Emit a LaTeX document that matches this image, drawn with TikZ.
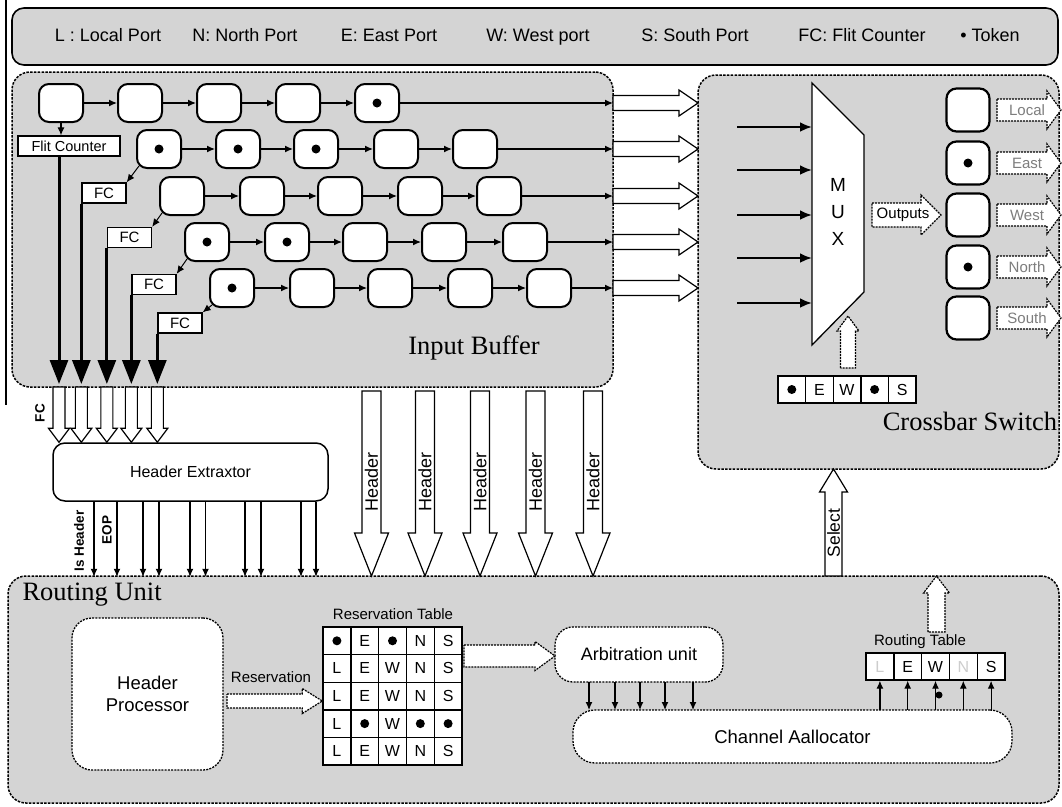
\documentclass[tikz,border=0pt]{standalone}
\usepackage{fontspec}
\setmainfont{Liberation Sans}
\newfontfamily\serifF{Liberation Serif}
\usetikzlibrary{calc,arrows.meta}
\definecolor{panelgray}{RGB}{212,212,212}
\definecolor{lblgray}{RGB}{125,125,125}
\definecolor{fadegray}{RGB}{205,205,205}
\newcommand\fsz[2]{\fontsize{#1}{#2}\selectfont}
% block arrows: [style]{start}{end}{shaft half width}{head half width}{head length}
\newcommand\barR[6][]{\draw[#1] let \p1=(#2),\p2=(#3) in (\x1,\y1+#4) -- (\x2-#6,\y1+#4) -- (\x2-#6,\y1+#5) -- (\x2,\y1) -- (\x2-#6,\y1-#5) -- (\x2-#6,\y1-#4) -- (\x1,\y1-#4) -- cycle;}
\newcommand\barD[6][]{\draw[#1] let \p1=(#2),\p2=(#3) in (\x1-#4,\y1) -- (\x1-#4,\y2+#6) -- (\x1-#5,\y2+#6) -- (\x1,\y2) -- (\x1+#5,\y2+#6) -- (\x1+#4,\y2+#6) -- (\x1+#4,\y1) -- cycle;}
\newcommand\barU[6][]{\draw[#1] let \p1=(#2),\p2=(#3) in (\x1-#4,\y1) -- (\x1-#4,\y2-#6) -- (\x1-#5,\y2-#6) -- (\x1,\y2) -- (\x1+#5,\y2-#6) -- (\x1+#4,\y2-#6) -- (\x1+#4,\y1) -- cycle;}
\tikzset{
  panel/.style={draw, fill=panelgray, line width=1.5pt, dash pattern=on 2.5pt off 1.3pt, rounded corners=18pt, inner sep=0pt, outer sep=0pt},
  solidpanel/.style={draw, fill=panelgray, line width=1.6pt, rounded corners=12pt, inner sep=0pt, outer sep=0pt},
  dbox/.style={draw, fill=white, line width=1.3pt, dash pattern=on 2pt off 1.2pt, inner sep=0pt, outer sep=0pt},
  cell/.style={draw, fill=white, line width=2pt, rounded corners=10pt, minimum width=44pt, minimum height=38pt, inner sep=0pt},
  tokdot/.style={circle, fill=black, inner sep=0pt, minimum size=9pt},
  flow/.style={line width=1.2pt, -{Latex[length=8pt,width=7pt]}},
  thickarr/.style={line width=3pt, -{Triangle[length=24pt,width=18pt]}},
  inarr/.style={line width=2.4pt, -{Latex[length=12pt,width=10pt]}},
  hollow/.style={draw, fill=white, line width=1.2pt},
  dhollow/.style={draw, fill=white, line width=1.2pt, dash pattern=on 2pt off 1pt},
  fcbox/.style={draw, fill=white, line width=1.3pt, inner sep=0pt, font=\fsz{15}{18}},
  tcell/.style={draw, fill=white, line width=1.4pt, minimum width=27.8pt, minimum height=27.6pt, inner sep=0pt, font=\fsz{16}{19}},
  rotlbl/.style={rotate=90, font=\bfseries\fsz{13.5}{16}},
  legtext/.style={font=\fsz{18}{21}, text height=13pt, text depth=4pt},
  title/.style={font=\serifF\fsz{26.5}{30}}
}
\begin{document}
\begin{tikzpicture}[x=1pt,y=-1pt]
\useasboundingbox (0,0) rectangle (1062,806);
\fill[white] (0,0) rectangle (1062,806);
\draw[line width=1.5pt] (6,0) -- (6,405);

% ---------- legend ----------
\node[solidpanel, minimum width=1046pt, minimum height=57pt] (legend) at (535,36.5) {};
\node[legtext] (lg1) at (108,37) {L : Local Port};
\node[legtext] (lg2) at (245,37) {N: North Port};
\node[legtext] (lg3) at (389,37) {E: East Port};
\node[legtext] (lg4) at (538,37) {W: West port};
\node[legtext] (lg5) at (695,37) {S: South Port};
\node[legtext] (lg6) at (862,37) {FC: Flit Counter};
\node[legtext] (lg7) at (990,37) {• Token};

% ---------- panels ----------
\node[panel, minimum width=601pt, minimum height=315pt] (ib) at (312.5,229.5) {};
\node[panel, minimum width=361pt, minimum height=394pt] (cb) at (878.5,272) {};
\node[panel, minimum width=1051pt, minimum height=227pt] (ru) at (533.5,689.5) {};

% ---------- input buffer ----------
\foreach \x [count=\i] in {61,140,219,298,377}
  \node[cell] (r1c\i) at (\x,103) {};
\foreach \x [count=\i] in {159,238,316,396,475}
  \node[cell] (r2c\i) at (\x,149) {};
\foreach \x [count=\i] in {182,262,340,420,499}
  \node[cell] (r3c\i) at (\x,196) {};
\foreach \x [count=\i] in {207,287,365,444,525}
  \node[cell] (r4c\i) at (\x,242) {};
\foreach \x [count=\i] in {232,312,390,470,549}
  \node[cell] (r5c\i) at (\x,288) {};

\foreach \rowi in {1,...,5}{
  \foreach \coli [evaluate=\coli as \nxt using int(\coli+1)] in {1,...,4}
    \draw[flow] (r\rowi c\coli) -- (r\rowi c\nxt);
  \draw[flow] (r\rowi c5) -- (r\rowi c5 -| ib.east);
  \barR[hollow]{r\rowi c5 -| ib.east}{r\rowi c5 -| cb.west}{7.5pt}{13pt}{19pt}
}

\node[fcbox, minimum width=102pt, minimum height=20pt, font=\fsz{14.5}{17}] (flit) at (69,146) {Flit Counter};
\draw[flow] (r1c1) -- (r1c1 |- flit.north);
\node[fcbox, minimum width=44pt, minimum height=20pt] (fc1) at (104,193) {FC};
\node[fcbox, minimum width=44pt, minimum height=20pt] (fc2) at (129.5,237.5) {FC};
\node[fcbox, minimum width=44pt, minimum height=20pt] (fc3) at (154,284.5) {FC};
\node[fcbox, minimum width=44pt, minimum height=20pt] (fc4) at (180,323) {FC};
\draw[flow, line width=1pt] ([shift={(3,-3)}]r2c1.south west) -- (fc1.north east);
\draw[flow, line width=1pt] ([shift={(3,-3)}]r3c1.south west) -- (fc2.north east);
\draw[flow, line width=1pt] ([shift={(3,-3)}]r4c1.south west) -- (fc3.north east);
\draw[flow, line width=1pt] ([shift={(3,-3)}]r5c1.south west) -- (fc4.north east);

\node[title] (iblbl) at (474,348) {Input Buffer};

% ---------- header extractor ----------
\node[draw, fill=white, line width=1.5pt, rounded corners=12pt, minimum width=275pt, minimum height=58pt, inner sep=0pt, font=\fsz{16}{19}] (he) at (190.5,472) {Header Extraxtor};

\coordinate (ibb) at (0,384);
\coordinate (t0) at ([xshift=-10]flit.south);
\coordinate (t1) at (fc1.south west);
\coordinate (t2) at (fc2.south west);
\coordinate (t3) at (fc3.south west);
\coordinate (t4) at (fc4.south west);
\foreach \k in {0,...,4}{
  \draw[thickarr] (t\k) -- (t\k |- ibb);
  \barD[hollow]{t\k |- ib.south}{t\k |- he.north}{6pt}{10.5pt}{14pt}
}
\node[rotlbl] (fclbl) at (40,413) {FC};

\foreach \dx in {-96.5,-73.5,-47.5,-31.5,-0.5,15,54.5,70.5,110.5,125.5}
  \draw[flow, line width=1.1pt] ([xshift=\dx]he.south) -- +(0,75);
\node[rotlbl] (ishdr) at (79,541) {Is Header};
\node[rotlbl] (eop) at (107,530) {EOP};

% ---------- header arrows ----------
\foreach \x [count=\k] in {371.5,425,480,535.5,593}{
  \coordinate (hs\k) at (\x,391);
  \barD[hollow]{hs\k}{hs\k |- ru.north}{9.5pt}{17pt}{43pt}
  \node[rotate=90, font=\fsz{18}{21}] (hl\k) at (\x,482) {Header};
}

% ---------- crossbar ----------
\draw[fill=white, line width=1.3pt] (812,83) coordinate (mx1) -- (864,135) coordinate (mx2) -- (864,292) coordinate (mx3) -- (812,345) coordinate (mx4) -- cycle;
\foreach \y [count=\k] in {127,170,215,258,303}{
  \coordinate (ma\k) at (737,\y);
  \coordinate (mb\k) at (812,\y);
  \draw[inarr] (ma\k) -- (mb\k);
}
\node[align=center, font=\fsz{19}{27}] (muxt) at (838,212) {M\\U\\X};
\coordinate (oa) at (872,215);
\coordinate (ob) at (941,215);
\barR[dhollow]{oa}{ob}{12pt}{20pt}{20pt}
\node[font=\fsz{15}{18}] (outl) at (903,215) {Outputs};

\foreach \y/\lab [count=\k] in {110/Local,163/East,215/West,267/North,318/South}{
  \node[cell, minimum width=43pt, minimum height=43pt, line width=2.2pt] (oc\k) at (968,\y) {};
  \coordinate (pa\k) at (997,\y);
  \coordinate (pb\k) at (1061,\y);
  \barR[dhollow]{pa\k}{pb\k}{11pt}{19pt}{14pt}
  \node[text=lblgray, font=\fsz{15}{18}] (pl\k) at (1027,\y) {\lab};
}

\foreach \t [count=\k] in {{},E,W,{},S}
  \node[tcell, minimum width=27.6pt, minimum height=27pt] (tr\k) at ({778+13.8+27.6*(\k-1)},389.5) {\t};
\coordinate (ta) at (848,368);
\coordinate (tb) at (848,316);
\barU[dhollow]{ta}{tb}{7.5pt}{11pt}{15pt}

\node[title] (cblbl) at (970,421) {Crossbar Switch};

% ---------- select ----------
\coordinate (sx) at (833.5,0);
\barU[hollow]{sx |- ru.north}{sx |- cb.south}{8.5pt}{14pt}{23pt}
\node[rotate=90, font=\fsz{17.5}{20}] (sel) at (833.5,533) {Select};

% ---------- routing unit ----------
\node[title, anchor=west] (rulbl) at (19,595) {Routing Unit};
\node[dbox, rounded corners=20pt, minimum width=151pt, minimum height=152pt, align=center, font=\fsz{18.5}{22}] (hp) at (147.5,694) {Header\\Processor};

\node[font=\fsz{15}{18}] (rstl) at (393,614) {Reservation Table};
\foreach \rowc [count=\j] in {{T,E,T,N,S},{L,E,W,N,S},{L,E,W,N,S},{L,T,W,T,T},{L,E,W,N,S}}{
  \foreach \cellc [count=\i] in \rowc {
    \if\cellc T
      \node[tcell] (rs\j\i) at ({323+13.9+27.8*(\i-1)},{627+13.8+27.6*(\j-1)}) {};
    \else
      \node[tcell] (rs\j\i) at ({323+13.9+27.8*(\i-1)},{627+13.8+27.6*(\j-1)}) {\cellc};
    \fi
  }
}

\coordinate (rva) at (227,701);
\barR[dhollow]{rva}{rva -| rs31.west}{7pt}{12.5pt}{20pt}
\node[font=\fsz{15}{18}] (rvl) at (271,677) {Reservation};

\node[dbox, rounded corners=18pt, minimum width=168pt, minimum height=55pt, font=\fsz{18}{21}] (arb) at (639,654.5) {Arbitration unit};
\coordinate (taa) at (464,656);
\barR[dhollow]{taa}{taa -| arb.west}{11pt}{14.5pt}{20pt}

\node[dbox, rounded corners=22pt, minimum width=439pt, minimum height=53pt, font=\fsz{18.5}{21}] (ch) at (792.5,736.5) {Channel Aallocator};
\foreach \dx in {-50,-24,1,26,54}
  \draw[flow] ([xshift=\dx]arb.south) -- +(0,28);

\node[font=\fsz{15}{18}] (rtl) at (920,642) {Routing Table};
\foreach \cellc/\col [count=\i] in {L/fadegray,E/black,W/black,N/fadegray,S/black}
  \node[tcell, minimum height=27pt, text=\col] (rt\i) at ({866+13.9+27.8*(\i-1)},666.5) {\cellc};
\foreach \i in {1,...,5}
  \draw[flow] (rt\i |- ch.north) -- (rt\i.south);
\node[tokdot, minimum size=7pt] (blob) at (939,695) {};

\coordinate (rua) at (936.5,632);
\barU[dhollow]{rua}{rua |- ru.north}{8.5pt}{13pt}{17pt}

% ---------- tokens ----------
\foreach \n in {r1c5,r2c1,r2c2,r2c3,r4c1,r4c2,r5c1,oc2,oc4,tr1,tr4,rs11,rs13,rs42,rs44,rs45}
  \node[tokdot] (dot-\n) at (\n) {};
\end{tikzpicture}
\end{document}
